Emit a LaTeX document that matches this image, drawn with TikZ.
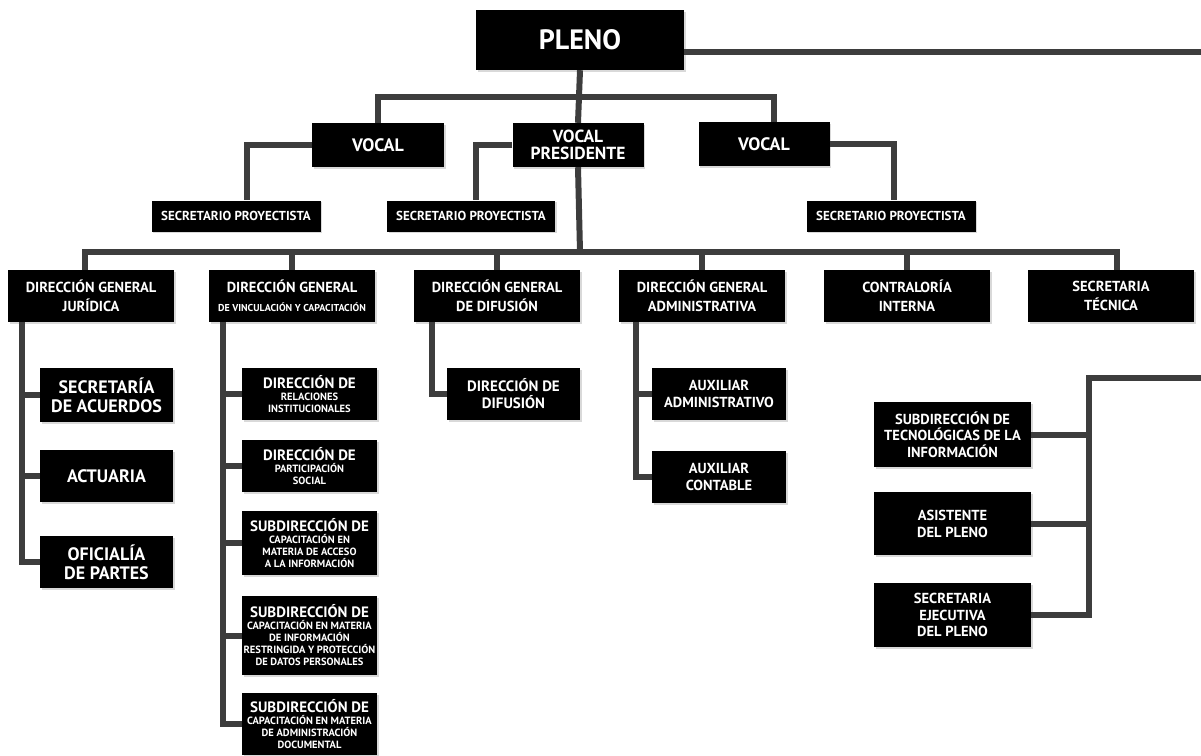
\documentclass[tikz,border=0pt]{standalone}
\usepackage{fontspec}
\setmainfont{PT Sans}
\usetikzlibrary{shadows}

\definecolor{linea}{HTML}{3D3D3D}

\tikzset{
  caja/.style={fill=black, text=white, align=center, inner sep=0pt,
    drop shadow={shadow xshift=1.5pt, shadow yshift=-1.5pt, opacity=0.3}},
  enlace/.style={draw=linea, line width=6pt},
  letra/.style 2 args={font=\bfseries\fontsize{#1}{#2}\selectfont},
}

\newcommand{\chica}[1]{{\fontsize{10.5}{12}\selectfont #1}}

\begin{document}
\begin{tikzpicture}[x=1pt, y=-1pt]

        \useasboundingbox (0,0) rectangle (1201,755);

        % Pleno y vocales
        \node[caja, letra={28}{30}, minimum width=208, minimum height=60] (pleno) at (580,40) {PLENO};
        \node[caja, letra={18}{18}, minimum width=132, minimum height=44] (vocal1) at (378,145) {VOCAL};
        \node[caja, letra={17.5}{17}, minimum width=131, minimum height=44] (vp) at (578,145) {VOCAL\\PRESIDENTE};
        \node[caja, letra={18}{18}, minimum width=131, minimum height=44] (vocal3) at (764,144) {VOCAL};

        \node[caja, letra={13}{14}, minimum width=169, minimum height=31] (sp1) at (236,216) {SECRETARIO PROYECTISTA};
        \node[caja, letra={13}{14}, minimum width=168, minimum height=31] (sp2) at (471,216) {SECRETARIO PROYECTISTA};
        \node[caja, letra={13}{14}, minimum width=169, minimum height=31] (sp3) at (891,216) {SECRETARIO PROYECTISTA};

        \coordinate (bvoc) at (580,97);
        \coordinate (pfin) at (1201,52);
        \draw[enlace] (pleno.east |- pfin) -- (pfin);
        \draw[enlace] (pleno.south) -- (vp.north);
        \draw[enlace] (vocal1.north) |- (bvoc) -| ([xshift=10pt]vocal3.north);
        \draw[enlace] (vocal1.west) -| ([xshift=11pt]sp1.north);
        \draw[enlace] (vp.west) -| ([xshift=5pt]sp2.north);
        \draw[enlace] (vocal3.east) -| ([xshift=3pt]sp3.north);

        % Direcciones generales
        \node[caja, letra={14.5}{19}, minimum width=166, minimum height=52] (dgj) at (91,296) {DIRECCIÓN GENERAL\\JURÍDICA};
        \node[caja, letra={14.5}{19}, minimum width=166, minimum height=52] (dgv) at (292,296)
          {DIRECCIÓN GENERAL\\{\fontsize{10}{12}\selectfont DE VINCULACIÓN Y CAPACITACIÓN}};
        \node[caja, letra={14.5}{19}, minimum width=166, minimum height=52] (dgd) at (497,296) {DIRECCIÓN GENERAL\\DE DIFUSIÓN};
        \node[caja, letra={14.5}{19}, minimum width=166, minimum height=52] (dga) at (702,296) {DIRECCIÓN GENERAL\\ADMINISTRATIVA};
        \node[caja, letra={14.5}{19}, minimum width=166, minimum height=52] (ci) at (907,296) {CONTRALORÍA\\INTERNA};
        \node[caja, letra={14.5}{19}, minimum width=166, minimum height=52] (st) at (1111,296) {SECRETARIA\\TÉCNICA};

        \coordinate (bdir) at (580,252);
        \draw[enlace] (vp.south) -- (bdir);
        \draw[enlace] ([xshift=-6pt]dgj.north) |- (bdir) -| ([xshift=6pt]st.north);
        \foreach \n in {dgv,dgd,dga,ci}
          \draw[enlace] (\n.north) -- (\n.north |- bdir);

        % Jurídica
        \node[caja, letra={18}{19}, minimum width=133, minimum height=54] (sa) at (106.5,395) {SECRETARÍA\\DE ACUERDOS};
        \node[caja, letra={18}{19}, minimum width=133, minimum height=52] (act) at (106.5,476) {ACTUARIA};
        \node[caja, letra={18}{19}, minimum width=133, minimum height=52] (op) at (106.5,562) {OFICIALÍA\\DE PARTES};

        \coordinate (c1) at ([xshift=14pt]dgj.south west);
        \draw[enlace] (c1) |- (op.west);
        \foreach \n in {sa,act}
          \draw[enlace] (\n.west) -- (\n.west -| c1);

        % Vinculación y capacitación
        \node[caja, letra={15}{12}, minimum width=135, minimum height=52] (dri) at (309.5,394)
          {DIRECCIÓN DE\\\chica{RELACIONES}\\\chica{INSTITUCIONALES}};
        \node[caja, letra={15}{12}, minimum width=135, minimum height=52] (dps) at (309.5,466)
          {DIRECCIÓN DE\\\chica{PARTICIPACIÓN}\\\chica{SOCIAL}};
        \node[caja, letra={15}{12}, minimum width=135, minimum height=64] (sai) at (309.5,543)
          {SUBDIRECCIÓN DE\\\chica{CAPACITACIÓN EN}\\\chica{MATERIA DE ACCESO}\\\chica{A LA INFORMACIÓN}};
        \node[caja, letra={15}{12}, minimum width=135, minimum height=79] (sip) at (309.5,635.5)
          {SUBDIRECCIÓN DE\\\chica{CAPACITACIÓN EN MATERIA}\\\chica{DE INFORMACIÓN}\\\chica{RESTRINGIDA Y PROTECCIÓN}\\\chica{DE DATOS PERSONALES}};
        \node[caja, letra={15}{12}, minimum width=135, minimum height=62] (sad) at (309.5,724)
          {SUBDIRECCIÓN DE\\\chica{CAPACITACIÓN EN MATERIA}\\\chica{DE ADMINISTRACIÓN}\\\chica{DOCUMENTAL}};

        \coordinate (c2) at ([xshift=14pt]dgv.south west);
        \draw[enlace] (c2) |- (sad.west);
        \foreach \n in {dri,dps,sai,sip}
          \draw[enlace] (\n.west) -- (\n.west -| c2);

        % Difusión
        \node[caja, letra={15}{17}, minimum width=133, minimum height=52] (ddif) at (513.5,394) {DIRECCIÓN DE\\DIFUSIÓN};
        \coordinate (c3) at ([xshift=18pt]dgd.south west);
        \draw[enlace] (c3) |- (ddif.west);

        % Administrativa
        \node[caja, letra={14.5}{17}, minimum width=134, minimum height=52] (aa) at (719,394) {AUXILIAR\\ADMINISTRATIVO};
        \node[caja, letra={14.5}{17}, minimum width=134, minimum height=52] (ac) at (719,477) {AUXILIAR\\CONTABLE};
        \coordinate (c4) at ([xshift=17pt]dga.south west);
        \draw[enlace] (c4) |- (ac.west);
        \draw[enlace] (aa.west) -- (aa.west -| c4);

        % Apoyo del pleno
        \node[caja, letra={14.5}{16.5}, minimum width=157, minimum height=65] (sti) at (952.5,434.5)
          {SUBDIRECCIÓN DE\\TECNOLÓGICAS DE LA\\INFORMACIÓN};
        \node[caja, letra={14.5}{17}, minimum width=157, minimum height=63] (adp) at (952.5,523.5) {ASISTENTE\\DEL PLENO};
        \node[caja, letra={14.5}{16.5}, minimum width=157, minimum height=64] (sep) at (952.5,615)
          {SECRETARIA\\EJECUTIVA\\DEL PLENO};

        \coordinate (rbus) at (1089,378);
        \coordinate (rfin) at (1201,378);
        \draw[enlace] (rfin) -- (rbus) |- (sep.east);
        \foreach \n in {sti,adp}
          \draw[enlace] (\n.east) -- (\n.east -| rbus);

    \end{tikzpicture}
\end{document}
